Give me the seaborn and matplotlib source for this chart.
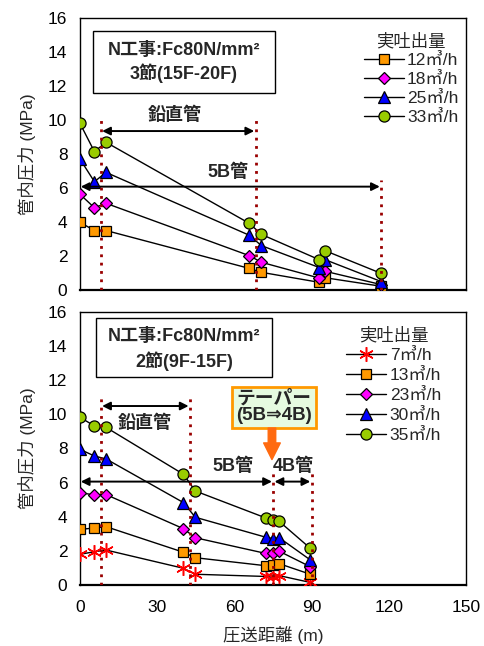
import matplotlib
matplotlib.use("Agg")
import matplotlib.pyplot as plt
from matplotlib.lines import Line2D
from matplotlib.patches import Rectangle
import seaborn as sns

sns.set_theme(style="white")
plt.rcParams["font.family"] = ["Liberation Sans", "Noto Sans CJK JP", "DejaVu Sans"]

# --- upper panel: 3rd lift (15F-20F) ---
dist_top = [0, 5.6, 10.1, 65.8, 70.5, 93.0, 95.3, 117.0]
top_labels = ["12㎥/h", "18㎥/h", "25㎥/h", "33㎥/h"]
p_top_12 = [3.98, 3.50, 3.50, 1.27, 1.04, 0.45, 0.72, 0.22]
p_top_18 = [5.63, 4.84, 5.10, 2.02, 1.63, 0.70, 1.10, 0.32]
p_top_25 = [7.70, 6.37, 6.92, 3.22, 2.61, 1.32, 1.78, 0.50]
p_top_33 = [9.80, 8.14, 8.69, 3.92, 3.27, 1.78, 2.31, 0.98]

# --- lower panel: 2nd lift (9F-15F) ---
dist_bot = [0, 5.6, 10.1, 40.2, 44.8, 72.2, 75.0, 77.4, 89.5]
bot_labels = ["7㎥/h", "13㎥/h", "23㎥/h", "30㎥/h", "35㎥/h"]
p_bot_7 = [1.80, 1.95, 2.05, 0.98, 0.63, 0.50, 0.45, 0.55, 0.15]
p_bot_13 = [3.26, 3.34, 3.42, 1.92, 1.60, 1.13, 1.20, 1.25, 0.63]
p_bot_23 = [5.41, 5.28, 5.30, 3.30, 2.77, 1.85, 1.88, 1.98, 1.07]
p_bot_30 = [7.95, 7.56, 7.39, 4.83, 3.97, 2.80, 2.72, 2.77, 1.47]
p_bot_35 = [9.83, 9.32, 9.24, 6.49, 5.51, 3.93, 3.83, 3.73, 2.15]

x_ticks = [0, 30, 60, 90, 120, 150]
y_ticks = [0, 2, 4, 6, 8, 10, 12, 14, 16]

SQ = dict(marker="s", markersize=7.0, markerfacecolor="#ff9900")
DI = dict(marker="D", markersize=6.4, markerfacecolor="#ff00ff")
TR = dict(marker="^", markersize=8.6, markerfacecolor="#0000ff")
CI = dict(marker="o", markersize=8.0, markerfacecolor="#99cc00")
AS = dict(marker=(6, 2, 0), markersize=10.5, markerfacecolor="#ff0000",
          markeredgecolor="#ff0000", markeredgewidth=1.1)

DOT = "#990000"
FS = 12.5
BFS = 13

fig = plt.figure(figsize=(4.85, 6.46), dpi=100)
ax1 = fig.add_axes([80 / 485, 1 - 290 / 646, 386 / 485, 272 / 646])
ax2 = fig.add_axes([80 / 485, 1 - 585 / 646, 386 / 485, 273 / 646])


def draw_series(ax, x, y, style):
    kw = dict(markeredgecolor="black", markeredgewidth=0.9)
    kw.update(style)
    sns.lineplot(x=x, y=y, ax=ax, color="black", lw=1.0, sort=False,
                 zorder=3, **kw)
    h = Line2D([], [], color="black", lw=1.0, **kw)
    return h


def style_axes(ax, show_xlabels):
    ax.set_xlim(0, 150)
    ax.set_ylim(0, 16)
    ax.set_xticks(x_ticks)
    ax.set_yticks(y_ticks)
    ax.tick_params(axis="both", direction="in", length=5, width=1,
                   colors="black", labelsize=FS)
    ax.tick_params(axis="y", pad=9)
    ax.tick_params(axis="x", pad=11)
    if not show_xlabels:
        ax.set_xticklabels([])
    for s in ax.spines.values():
        s.set_color("black")
        s.set_linewidth(1.0)
        s.set_visible(True)
    ax.spines["bottom"].set_linewidth(1.6)
    ax.set_ylabel("管内圧力 (MPa)", fontsize=FS)
    ax.yaxis.set_label_coords(-0.115, 0.5)


def dbl_arrow(ax, x0, x1, y):
    ax.annotate("", xy=(x1, y), xytext=(x0, y),
                arrowprops=dict(arrowstyle="<|-|>", color="black", lw=1.4,
                                mutation_scale=12, shrinkA=0, shrinkB=0),
                zorder=4)


def info_box(ax, x0, x1, y0, y1, line1, line2, ty1, ty2):
    ax.add_patch(Rectangle((x0, y0), x1 - x0, y1 - y0, facecolor="white",
                           edgecolor="black", lw=1.0, zorder=5))
    xc = (x0 + x1) / 2
    ax.text(xc, ty1, line1, ha="center", va="center", fontsize=BFS,
            fontweight="bold", zorder=6)
    ax.text(xc, ty2, line2, ha="center", va="center", fontsize=BFS,
            fontweight="bold", zorder=6)


# upper panel
h_top = [draw_series(ax1, dist_top, p_top_12, SQ),
         draw_series(ax1, dist_top, p_top_18, DI),
         draw_series(ax1, dist_top, p_top_25, TR),
         draw_series(ax1, dist_top, p_top_33, CI)]
for xv, ytop in [(8.0, 10.06), (68.3, 10.06), (117.0, 6.47)]:
    ax1.plot([xv, xv], [0, ytop], color=DOT, ls=(0, (1, 2)), lw=2.0, zorder=6)
dbl_arrow(ax1, 8.6, 67.7, 9.35)
dbl_arrow(ax1, 0.3, 116.5, 6.08)
ax1.text(36.9, 10.3, "鉛直管", ha="center", va="center", fontsize=BFS,
         fontweight="bold")
ax1.text(57.5, 6.9, "5B管", ha="center", va="center", fontsize=BFS,
         fontweight="bold")
info_box(ax1, 4.9, 75.8, 11.59, 15.24, "N工事:Fc80N/mm²", "3節(15F-20F)",
         14.1, 12.76)
style_axes(ax1, False)
leg1 = ax1.legend(h_top, top_labels, title="実吐出量", loc="upper left",
                  bbox_to_anchor=(0.735, 0.945), frameon=False, fontsize=FS,
                  title_fontsize=FS, handlelength=2.3, handletextpad=0.2,
                  labelspacing=0.22, borderpad=0, borderaxespad=0)

# lower panel
h_bot = [draw_series(ax2, dist_bot, p_bot_7, AS),
         draw_series(ax2, dist_bot, p_bot_13, SQ),
         draw_series(ax2, dist_bot, p_bot_23, DI),
         draw_series(ax2, dist_bot, p_bot_30, TR),
         draw_series(ax2, dist_bot, p_bot_35, CI)]
for xv, ytop in [(8.0, 10.95), (42.8, 10.95), (75.1, 6.8), (90.0, 6.8)]:
    ax2.plot([xv, xv], [0, ytop], color=DOT, ls=(0, (1, 2)), lw=2.0, zorder=6)
dbl_arrow(ax2, 8.6, 42.2, 10.49)
dbl_arrow(ax2, 0.3, 74.6, 6.06)
dbl_arrow(ax2, 75.6, 89.5, 6.06)
ax2.text(25.3, 9.5, "鉛直管", ha="center", va="center", fontsize=BFS,
         fontweight="bold")
ax2.text(59.5, 6.93, "5B管", ha="center", va="center", fontsize=BFS,
         fontweight="bold")
ax2.text(82.8, 6.93, "4B管", ha="center", va="center", fontsize=BFS,
         fontweight="bold")
info_box(ax2, 6.2, 74.5, 12.19, 15.65, "N工事:Fc80N/mm²", "2節(9F-15F)",
         14.55, 13.1)
ax2.text(75.4, 10.4, "テーパー\n(5B⇒4B)", ha="center", va="center",
         fontsize=13.5, fontweight="bold", linespacing=0.95, zorder=7,
         family=["Liberation Sans", "DejaVu Sans", "Noto Sans CJK JP"],
         bbox=dict(boxstyle="square,pad=0.2", facecolor="#e6fbe0",
                   edgecolor="#ff9900", lw=2))
ax2.annotate("", xy=(74.6, 7.35), xytext=(74.6, 9.2),
             arrowprops=dict(arrowstyle="simple,head_width=1.0,head_length=1.0,tail_width=0.45",
                             color="#ff6a10", shrinkA=0, shrinkB=0),
             zorder=7)
style_axes(ax2, True)
ax2.set_xlabel("圧送距離 (m)", fontsize=FS, labelpad=8)
leg2 = ax2.legend(h_bot, bot_labels, title="実吐出量", loc="upper left",
                  bbox_to_anchor=(0.69, 0.945), frameon=False, fontsize=FS,
                  title_fontsize=FS, handlelength=2.3, handletextpad=0.2,
                  labelspacing=0.27, borderpad=0, borderaxespad=0)

fig.savefig("out.png", dpi=100, facecolor="white")
